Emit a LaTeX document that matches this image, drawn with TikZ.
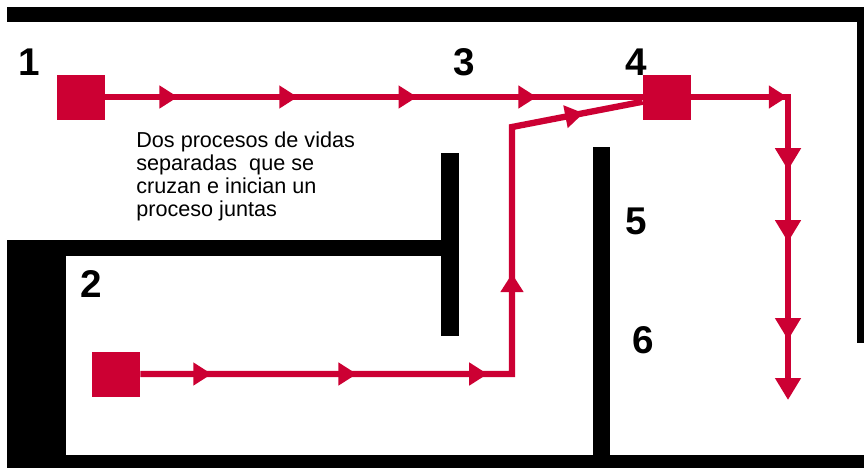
\documentclass[tikz,border=0pt]{standalone}
\usepackage{fontspec}
\setmainfont{Liberation Sans}
\usetikzlibrary{arrows.meta, decorations.markings}
\definecolor{flowred}{RGB}{204,0,51}
\tikzset{
  wall/.style={fill=black},
  proc/.style={fill=flowred, minimum width=0.96cm, minimum height=0.9cm, inner sep=0},
  num/.style={font=\fontsize{22}{24}\selectfont\bfseries, inner sep=0},
  flow/.style={draw=flowred, line width=3.6pt},
  midtip/.tip={Triangle[length=10.5pt, width=12.5pt, color=flowred]},
  bigtip/.tip={Triangle[length=12.5pt, width=14pt, color=flowred]},
  tip at/.style={postaction={decorate, decoration={markings,
      mark=at position #1 with {\arrow{midtip}}}}},
  big tip at/.style={postaction={decorate, decoration={markings,
      mark=at position #1 with {\arrow{bigtip}}}}}
}
\begin{document}
\begin{tikzpicture}[x=0.02cm, y=-0.02cm]
    \useasboundingbox (0,0) rectangle (864,468);

    % walls
    \fill[wall] (7,7) rectangle (864,22);
    \fill[wall] (857,7) rectangle (864,343);
    \fill[wall] (7,240) rectangle (445,256);
    \fill[wall] (7,240) rectangle (66,468);
    \fill[wall] (7,455) rectangle (864,468);
    \fill[wall] (441,153) rectangle (459,336);
    \fill[wall] (593,147) rectangle (610,455);

    \node[proc] (p1) at (81,97) {};
    \node[proc] (p4) at (667,97) {};
    \node[proc] (p2) at (116,374) {};

    \node[num] (n1) at (29,62) {1};
    \node[num] (n2) at (91,284) {2};
    \node[num] (n3) at (464,62) {3};
    \node[num] (n4) at (636,62) {4};
    \node[num] (n5) at (636,221) {5};
    \node[num] (n6) at (643,340) {6};

    \node[anchor=north west, align=left, inner sep=0,
      font=\fontsize{12.3}{13.2}\selectfont] (txt) at (136,131)
      {Dos procesos de vidas\\separadas \ que se\\cruzan e inician un\\proceso juntas};

    \coordinate (c4) at (788,97);
    \coordinate (e4) at (788,400);
    \coordinate (c2) at (512,374);
    \coordinate (k2) at (512,127);

    \draw[flow, tip at/.list={0.135,0.358,0.58,0.803}] (p1) -- (p4);
    \draw[flow, -bigtip, tip at=0.24,
      big tip at/.list={0.425,0.605,0.85}] (p4) -- (c4) -- (e4);
    \draw[flow, tip at/.list={0.095,0.288,0.462,0.628,0.92}]
      (p2) -- (c2) -- (k2) -- (p4);
\end{tikzpicture}
\end{document}
